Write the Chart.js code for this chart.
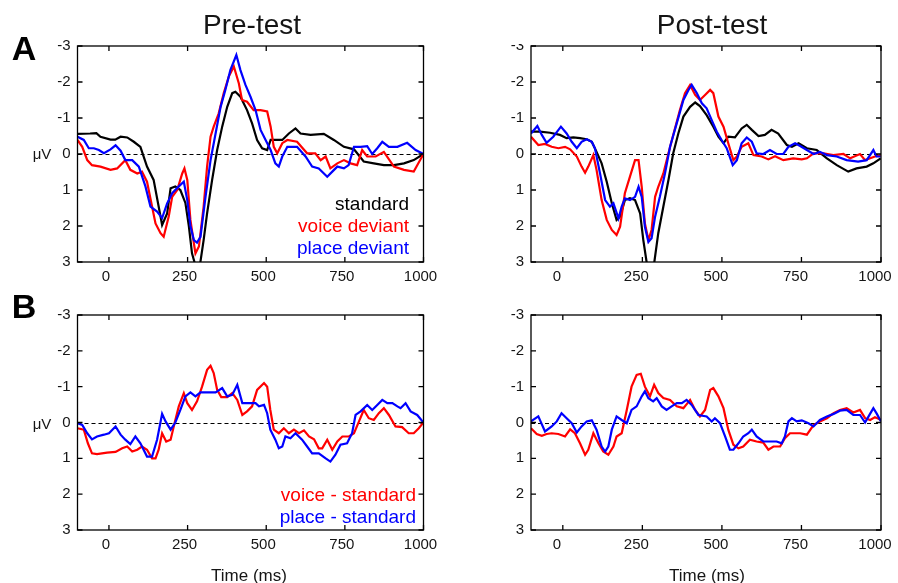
<!DOCTYPE html>
<html>
<head>
<meta charset="utf-8">
<title>ERP waveforms: pre-test and post-test</title>
<script src="https://cdn.jsdelivr.net/npm/chart.js@4/dist/chart.umd.min.js"></script>
<style>
  html, body { margin: 0; padding: 0; background: #fff; }
  #wrap { position: relative; width: 898px; height: 583px; overflow: hidden;
          font-family: "Liberation Sans", Arial, sans-serif; color: #151515; }
  #wrap canvas { position: absolute; left: 0; top: 0; }
  .txt { position: absolute; white-space: nowrap; line-height: 1; transform: translate(-50%, -50%); z-index: 5; }
  .letter { font-size: 34px; font-weight: bold; color: #000; }
  .mask { position: absolute; background: #fff; z-index: 4; }
</style>
</head>
<body>
<div id="wrap">
  <canvas id="cPre" width="898" height="583"></canvas>
  <canvas id="cPost" width="898" height="583"></canvas>
  <canvas id="cPreDiff" width="898" height="583"></canvas>
  <canvas id="cPostDiff" width="898" height="583"></canvas>

  <div class="txt letter" style="left:24px;top:48px;">A</div>
  <div class="txt letter" style="left:24px;top:306px;">B</div>
  <div class="txt" style="left:252px;top:25px;font-size:28px;">Pre-test</div>
  <div class="txt" style="left:712px;top:25px;font-size:28px;">Post-test</div>
  <div class="txt" style="left:42px;top:153px;font-size:15px;">μV</div>
  <div class="txt" style="left:42px;top:423px;font-size:15px;">μV</div>
  <div class="txt" style="left:249px;top:575px;font-size:17px;">Time (ms)</div>
  <div class="txt" style="left:707px;top:575px;font-size:17px;">Time (ms)</div>
  <div class="mask" style="left:500px;top:30px;width:29px;height:14px;"></div>
</div>

<script>
// ---- axis ticks ----
const xTickVals = [0, 250, 500, 750, 1000];
const yTickVals = [-3, -2, -1, 0, 1, 2, 3];

// ---- Pre-test grand averages (ms, µV) ----
const preStdT = [-100,-60,-40,-27,5,20,37,58,79,100,121,142,158,169,185,196,211,227,243,254,264,275,289,301,312,328,344,360,376,392,402,418,439,455,471,487,503,514,551,572,593,609,641,683,715,747,779,810,842,874,906,938,969,1000];
const preStdV = [-0.56,-0.57,-0.58,-0.48,-0.40,-0.40,-0.48,-0.46,-0.34,-0.20,0.35,0.72,1.46,1.97,1.65,0.95,0.90,1.00,1.36,2.00,2.76,3.10,3.10,2.39,1.65,0.72,-0.11,-0.76,-1.31,-1.69,-1.73,-1.59,-1.22,-0.85,-0.39,-0.16,-0.11,-0.39,-0.39,-0.57,-0.71,-0.57,-0.53,-0.56,-0.39,-0.20,-0.13,0.21,0.26,0.31,0.31,0.26,0.17,0.00];

const preVoiceT = [-100,-85,-69,-54,-27,5,26,52,68,90,105,121,137,148,164,174,190,201,217,233,240,249,259,270,275,286,301,312,323,333,349,365,381,397,413,423,439,460,482,503,514,524,535,551,567,598,630,656,673,689,704,726,747,768,789,805,821,848,874,906,938,969,1000];
const preVoiceV = [-0.39,-0.20,0.17,0.31,0.35,0.44,0.40,0.17,0.44,0.54,0.49,0.77,1.46,1.93,2.20,2.30,1.74,1.19,1.00,0.54,0.40,0.72,1.83,2.48,2.76,2.57,1.46,0.35,-0.48,-0.76,-1.13,-1.69,-2.15,-2.43,-1.96,-1.50,-1.45,-1.22,-1.22,-1.18,-0.76,-0.20,-0.02,-0.30,-0.39,-0.34,-0.02,-0.02,0.17,0.07,0.40,0.26,0.17,0.26,0.31,-0.11,0.07,0.07,-0.06,0.35,0.44,0.49,0.00];

const prePlaceT = [-100,-80,-64,-48,-32,-16,5,21,37,52,74,95,116,132,153,169,185,201,222,238,249,259,270,280,291,307,323,339,355,370,386,405,418,434,450,466,482,498,514,529,540,551,567,598,625,646,667,694,710,726,747,762,779,800,821,837,853,869,890,917,948,975,1000];
const prePlaceV = [-0.48,-0.39,-0.16,-0.16,-0.11,-0.02,-0.13,-0.24,-0.09,0.17,0.17,0.35,0.90,1.46,1.60,1.78,1.37,1.09,0.90,0.77,1.28,2.00,2.39,2.46,2.30,1.19,0.17,-0.57,-1.31,-1.78,-2.33,-2.75,-2.33,-1.92,-1.59,-1.22,-0.67,-0.39,-0.11,0.26,0.35,0.07,-0.20,-0.20,0.07,0.35,0.40,0.63,0.49,0.35,0.40,0.31,-0.20,-0.20,-0.22,0.00,-0.16,-0.34,-0.20,-0.20,-0.31,-0.11,0.00];

// ---- Post-test grand averages ----
const postStdT = [-100,-72,-40,-9,12,33,54,75,91,106,122,138,154,169,180,195,211,227,243,253,264,274,287,300,316,332,347,363,379,400,416,431,452,473,489,505,520,541,562,578,594,615,635,656,677,704,720,741,767,798,830,861,897,923,955,976,999];
const postStdV = [-0.62,-0.62,-0.59,-0.53,-0.44,-0.46,-0.44,-0.41,-0.34,-0.06,0.26,0.77,1.37,1.83,1.74,1.28,1.23,1.28,1.65,2.39,3.04,3.10,3.04,2.20,1.46,0.72,-0.02,-0.57,-1.04,-1.31,-1.43,-1.33,-1.08,-0.76,-0.48,-0.30,-0.48,-0.46,-0.71,-0.81,-0.67,-0.50,-0.53,-0.67,-0.57,-0.25,-0.20,-0.30,-0.16,-0.11,0.12,0.31,0.49,0.40,0.35,0.26,0.12];

const postVoiceT = [-100,-77,-56,-35,-14,7,23,44,59,70,80,96,106,122,138,154,169,180,195,211,227,238,248,258,269,279,290,300,316,332,347,368,384,400,416,431,447,463,473,489,505,520,536,547,562,583,599,625,646,667,693,724,751,767,788,819,850,882,903,934,950,966,981,999];
const postVoiceV = [-0.48,-0.25,-0.28,-0.20,-0.16,-0.20,-0.13,0.07,0.35,0.52,0.35,0.03,0.44,1.28,1.83,2.11,2.25,2.02,1.09,0.63,0.17,0.17,0.91,1.93,2.39,2.11,1.19,0.91,0.54,-0.02,-0.53,-1.22,-1.69,-1.92,-1.64,-1.50,-1.64,-1.78,-1.69,-1.04,-0.76,-0.30,0.17,0.07,-0.20,-0.30,0.03,0.07,0.15,0.06,0.17,0.12,0.15,0.12,-0.02,-0.02,0.03,0.00,0.12,0.00,0.17,0.12,0.07,0.03];

const postPlaceT = [-100,-80,-66,-51,-30,-6,12,28,44,59,75,91,101,117,133,148,159,175,185,195,211,227,238,248,258,269,279,290,305,321,337,358,379,395,405,421,437,452,468,484,499,515,534,547,562,578,594,609,630,651,672,693,709,730,746,767,788,808,830,861,892,928,955,976,986,999];
const postPlaceV = [-0.57,-0.78,-0.53,-0.31,-0.48,-0.76,-0.57,-0.34,-0.16,-0.34,-0.41,-0.34,-0.16,0.54,1.28,1.46,1.37,1.79,1.46,1.23,1.28,1.19,0.91,1.19,2.02,2.44,2.34,1.74,1.19,0.54,-0.20,-0.85,-1.50,-1.78,-1.92,-1.69,-1.41,-1.27,-0.94,-0.62,-0.39,-0.16,0.31,0.17,-0.30,-0.46,-0.34,-0.02,0.00,-0.11,0.00,0.00,-0.20,-0.30,-0.22,-0.11,0.00,-0.06,0.03,0.07,0.17,0.21,0.17,-0.11,0.07,0.07];

// ---- Difference waves (deviant - standard) ----
const preVoiceDiffT = [-100,-80,-67,-54,-38,-6,21,42,58,74,90,105,121,137,148,158,169,182,196,206,222,238,249,264,280,296,312,323,333,344,357,376,392,408,424,439,455,471,493,503,513,524,540,556,572,588,604,620,636,652,667,678,694,710,726,742,763,779,795,810,826,842,858,874,890,911,932,953,969,985,1000];
const preVoiceDiffV = [0.16,0.20,0.58,0.86,0.88,0.84,0.82,0.72,0.67,0.81,0.76,0.67,0.76,1.00,1.00,0.76,0.30,0.53,0.48,0.11,-0.45,-0.82,-0.54,-0.35,-0.59,-1.00,-1.47,-1.58,-1.38,-0.91,-0.71,-0.71,-0.82,-0.63,-0.21,-0.31,-0.45,-0.91,-1.10,-1.00,-0.35,0.20,0.30,0.16,0.30,0.20,0.30,0.22,0.39,0.47,0.72,0.72,0.48,0.76,0.53,0.39,0.39,0.30,-0.03,-0.35,-0.12,-0.07,-0.26,-0.40,-0.21,0.11,0.13,0.30,0.30,0.16,0.00];

const prePlaceDiffT = [-100,-85,-69,-54,-38,-16,0,21,37,52,68,84,100,121,137,153,169,180,196,211,227,243,259,275,291,312,339,360,376,392,408,424,445,466,477,493,503,513,529,540,551,561,577,593,614,630,646,667,689,704,720,736,757,773,784,800,821,837,853,869,885,901,917,927,943,959,980,1000];
const prePlaceDiffV = [0.02,0.07,0.30,0.47,0.39,0.34,0.30,0.11,0.34,0.48,0.60,0.39,0.58,0.95,0.95,0.48,-0.24,-0.03,0.20,0.00,-0.35,-0.73,-0.84,-0.73,-0.84,-0.84,-0.84,-0.96,-0.73,-0.77,-1.05,-0.54,-0.54,-0.54,-0.45,-0.49,-0.26,0.20,0.48,0.72,0.67,0.39,0.44,0.30,0.48,0.67,0.86,0.86,1.00,1.09,0.90,0.62,0.58,0.30,-0.21,-0.31,-0.49,-0.35,-0.49,-0.63,-0.54,-0.54,-0.45,-0.40,-0.54,-0.31,-0.21,0.00];

const postVoiceDiffT = [-100,-82,-66,-51,-35,-14,7,23,38,54,70,80,96,112,127,143,159,169,185,201,216,232,245,258,274,287,300,316,337,358,379,400,416,431,447,463,473,489,505,520,536,552,567,588,609,630,646,662,683,698,714,746,767,788,808,830,851,871,892,913,934,950,966,981,1000];
const postVoiceDiffV = [0.16,0.32,0.37,0.32,0.30,0.32,0.39,0.19,0.30,0.58,0.90,0.76,0.30,0.58,0.81,0.90,0.67,0.39,0.30,-0.35,-1.00,-1.33,-1.36,-1.00,-0.73,-1.05,-0.82,-0.68,-0.63,-0.45,-0.40,-0.63,-0.35,-0.17,-0.35,-0.91,-0.96,-0.73,-0.40,0.20,0.62,0.72,0.67,0.48,0.53,0.56,0.76,0.67,0.67,0.44,0.30,0.30,0.34,0.07,-0.03,-0.12,-0.26,-0.35,-0.40,-0.28,-0.35,-0.12,-0.07,-0.15,-0.07];

const postPlaceDiffT = [-100,-77,-56,-35,-19,-4,12,28,44,59,75,91,106,122,133,143,154,169,185,201,216,232,248,258,269,284,295,311,326,342,358,374,389,405,426,452,468,478,494,510,525,536,552,567,583,594,609,630,651,672,688,698,709,720,735,751,772,788,808,830,851,871,892,913,934,950,961,976,987,1000];
const postPlaceDiffV = [-0.03,-0.17,0.25,0.11,-0.03,-0.26,-0.12,0.02,0.28,0.11,-0.03,-0.06,0.20,0.67,0.81,0.67,0.20,-0.17,-0.07,0.02,-0.35,-0.45,-0.73,-0.87,-0.68,-0.59,-0.68,-0.45,-0.35,-0.45,-0.54,-0.54,-0.63,-0.49,-0.21,-0.17,-0.03,-0.12,0.02,0.39,0.76,0.76,0.58,0.39,0.30,0.20,0.39,0.53,0.53,0.53,0.58,0.39,-0.03,-0.12,-0.03,-0.06,0.02,0.11,-0.07,-0.17,-0.24,-0.33,-0.35,-0.21,-0.21,0.00,-0.17,-0.40,-0.24,-0.03];

// ---- drawing ----
const W = 898, H = 583;
const Y_W = 40, X_H = 26;
const BLACK = '#000000', RED = '#ff0000', BLUE = '#0000ff';
const FONT = '"Liberation Sans", Arial, sans-serif';

// Box frame with inward ticks on all four sides, dashed zero line and a text legend
const framePlugin = {
  id: 'frame',
  beforeDatasetsDraw(chart) {
    const { ctx, chartArea: a, scales: { y } } = chart;
    const y0 = Math.round(y.getPixelForValue(0)) + 0.5;
    ctx.save();
    ctx.strokeStyle = '#000';
    ctx.lineWidth = 1.2;
    ctx.setLineDash([4, 3]);
    ctx.beginPath();
    ctx.moveTo(a.left, y0);
    ctx.lineTo(a.right, y0);
    ctx.stroke();
    ctx.restore();
  },
  afterDraw(chart, args, opts) {
    const { ctx, chartArea: a, scales: { x, y } } = chart;
    const tl = 5;
    ctx.save();
    ctx.strokeStyle = '#000';
    ctx.lineWidth = 1.3;
    ctx.beginPath();
    x.ticks.forEach(t => {
      const px = x.getPixelForValue(t.value);
      ctx.moveTo(px, a.bottom); ctx.lineTo(px, a.bottom - tl);
      ctx.moveTo(px, a.top); ctx.lineTo(px, a.top + tl);
    });
    y.ticks.forEach(t => {
      const py = y.getPixelForValue(t.value);
      ctx.moveTo(a.left, py); ctx.lineTo(a.left + tl, py);
      ctx.moveTo(a.right, py); ctx.lineTo(a.right - tl, py);
    });
    ctx.stroke();
    ctx.strokeRect(a.left, a.top, a.right - a.left, a.bottom - a.top);

    if (opts && opts.legend) {
      const lg = opts.legend;
      ctx.font = lg.size + 'px ' + FONT;
      ctx.textAlign = 'right';
      ctx.textBaseline = 'alphabetic';
      chart.data.datasets.forEach((ds, i) => {
        ctx.fillStyle = ds.borderColor;
        ctx.fillText(ds.label, lg.x, lg.y + i * lg.step);
      });
    }
    ctx.restore();
  }
};

function series(label, t, v, color, order) {
  return {
    label,
    data: t.map((tt, k) => ({ x: tt, y: v[k] })),
    borderColor: color,
    backgroundColor: color,
    borderWidth: 2.2,
    pointRadius: 0,
    tension: 0,
    fill: false,
    order
  };
}

function panel(canvasId, area, datasets, legend, shift) {
  const tickFont = { family: FONT, size: 15 };
  new Chart(document.getElementById(canvasId), {
    type: 'line',
    data: { datasets },
    options: {
      responsive: false,
      animation: false,
      events: [],
      layout: { padding: { left: area.l - Y_W, top: area.t, right: W - area.r, bottom: H - area.b - X_H } },
      plugins: {
        legend: { display: false },
        tooltip: { enabled: false },
        frame: { legend }
      },
      scales: {
        x: {
          type: 'linear', min: -100, max: 1000,
          grid: { display: false, drawTicks: false },
          border: { display: false },
          afterBuildTicks: s => { s.ticks = xTickVals.map(v => ({ value: v })); },
          afterFit: s => { s.height = X_H; s.paddingLeft = 0; s.paddingRight = 0; },
          ticks: { font: tickFont, color: '#151515', padding: 6, labelOffset: shift,
                   maxRotation: 0, autoSkip: false, callback: v => String(v) }
        },
        y: {
          type: 'linear', min: -3, max: 3, reverse: true,
          grid: { display: false, drawTicks: false },
          border: { display: false },
          afterBuildTicks: s => { s.ticks = yTickVals.map(v => ({ value: v })); },
          afterFit: s => { s.width = Y_W; s.paddingTop = 0; s.paddingBottom = 0; },
          ticks: { font: tickFont, color: '#151515', padding: 7, callback: v => String(v) }
        }
      }
    },
    plugins: [framePlugin]
  });
}

panel('cPre', { l: 77.5, t: 46, r: 423.5, b: 262 }, [
  series('standard', preStdT, preStdV, BLACK, 3),
  series('voice deviant', preVoiceT, preVoiceV, RED, 2),
  series('place deviant', prePlaceT, prePlaceV, BLUE, 1)
], { x: 409, y: 210, step: 22, size: 19 }, -3);

panel('cPost', { l: 531, t: 46, r: 881, b: 262 }, [
  series('standard', postStdT, postStdV, BLACK, 3),
  series('voice deviant', postVoiceT, postVoiceV, RED, 2),
  series('place deviant', postPlaceT, postPlaceV, BLUE, 1)
], null, -6);

panel('cPreDiff', { l: 77.5, t: 315, r: 423.5, b: 530 }, [
  series('voice - standard', preVoiceDiffT, preVoiceDiffV, RED, 2),
  series('place - standard', prePlaceDiffT, prePlaceDiffV, BLUE, 1)
], { x: 416, y: 501, step: 22, size: 19 }, -3);

panel('cPostDiff', { l: 531, t: 315, r: 881, b: 530 }, [
  series('voice - standard', postVoiceDiffT, postVoiceDiffV, RED, 2),
  series('place - standard', postPlaceDiffT, postPlaceDiffV, BLUE, 1)
], null, -6);
</script>
</body>
</html>
